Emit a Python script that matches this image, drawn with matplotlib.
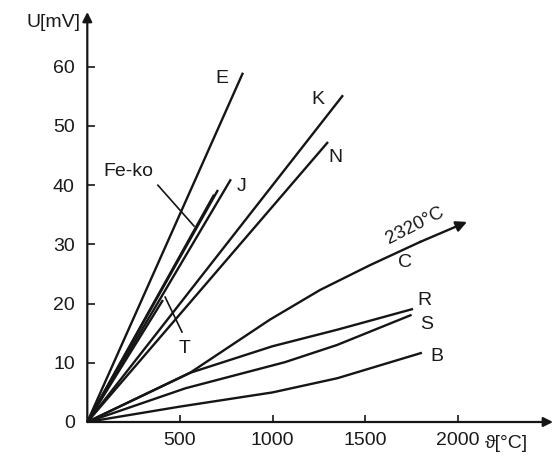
import matplotlib
matplotlib.use("Agg")
import matplotlib.pyplot as plt
import numpy as np

plt.rcParams['font.family'] = ['Liberation Sans', 'DejaVu Sans']

# ---- data (temperature in °C, thermo-voltage in mV) ----
e_t = [0, 840];   e_u = [0, 59.0]
k_t = [0, 1380];  k_u = [0, 55.2]
n_t = [0, 1299];  n_u = [0, 47.3]
j_t = [0, 775];   j_u = [0, 41.0]
feko_t = [0, 705]; feko_u = [0, 39.2]
feko2_t = [0, 684]; feko2_u = [0, 38.4]
t_t = [0, 408];   t_u = [0, 20.6]
c_t = [0, 554, 986, 1256, 1526, 1795, 2049]
c_u = [0, 8.3, 17.3, 22.3, 26.5, 30.4, 33.8]
r_t = [0, 554, 1000, 1350, 1758]
r_u = [0, 8.3, 12.8, 15.6, 19.1]
s_t = [0, 530, 1066, 1347, 1750]
s_u = [0, 5.7, 10.1, 13.0, 18.1]
b_t = [0, 500, 1000, 1350, 1806]
b_u = [0, 2.6, 5.0, 7.4, 11.7]

x_ticks = [500, 1000, 1500, 2000]
y_ticks = [0, 10, 20, 30, 40, 50, 60]

col = '#151515'
lw = 1.7

fig = plt.figure(figsize=(5.56, 4.57), dpi=100)
ax = fig.add_axes([87.3 / 556, (457 - 422) / 457, (553 - 87.3) / 556, (422 - 12) / 457])
xmax = (553 - 87.3) / 0.1853
ymax = (422 - 12) / 5.92
ax.set_xlim(0, xmax)
ax.set_ylim(0, ymax)
for sp in ax.spines.values():
    sp.set_visible(False)

# axes with arrows
ax.annotate('', xy=(xmax, 0), xytext=(0, 0), annotation_clip=False,
            arrowprops=dict(arrowstyle='-|>', lw=1.6, color=col, mutation_scale=14, shrinkA=0, shrinkB=0))
ax.annotate('', xy=(0, ymax), xytext=(0, 0), annotation_clip=False,
            arrowprops=dict(arrowstyle='-|>', lw=1.6, color=col, mutation_scale=14, shrinkA=0, shrinkB=0))

ax.set_xticks(x_ticks)
ax.set_yticks(y_ticks)
ax.tick_params(axis='x', direction='in', length=5, width=1.2, color=col, pad=7, labelsize=14, labelcolor='#1a1a1a')
ax.tick_params(axis='y', direction='in', length=6, width=1.2, color=col, pad=9, labelsize=14, labelcolor='#1a1a1a')

def curve(t, u):
    ax.plot(t, u, color=col, lw=lw, solid_capstyle='butt', solid_joinstyle='round', clip_on=False)

for t, u in [(e_t, e_u), (k_t, k_u), (n_t, n_u), (j_t, j_u), (feko_t, feko_u),
             (feko2_t, feko2_u), (t_t, t_u), (r_t, r_u), (s_t, s_u), (b_t, b_u)]:
    curve(t, u)
ax.plot(c_t[:-1], c_u[:-1], color=col, lw=lw, solid_joinstyle='round')
ax.annotate('', xy=(c_t[-1], c_u[-1]), xytext=(c_t[-2], c_u[-2]),
            arrowprops=dict(arrowstyle='-|>', lw=lw, color=col, mutation_scale=16, shrinkA=0, shrinkB=0))

fs = 14
tc = '#1a1a1a'
ax.text(727, 58.0, 'E', fontsize=fs, ha='center', va='center', color=tc)
ax.text(1244, 54.4, 'K', fontsize=fs, ha='center', va='center', color=tc)
ax.text(1337, 44.6, 'N', fontsize=fs, ha='center', va='center', color=tc)
ax.text(830, 39.7, 'J', fontsize=fs, ha='center', va='center', color=tc)
ax.text(219, 42.3, 'Fe-ko', fontsize=fs, ha='center', va='center', color=tc)
ax.text(526, 12.4, 'T', fontsize=fs, ha='center', va='center', color=tc)
ax.text(1714, 27.0, 'C', fontsize=fs, ha='center', va='center', color=tc)
ax.text(1770, 33.2, '2320°C', fontsize=13.5, ha='center', va='center', rotation=27, color=tc)
ax.text(1822, 20.6, 'R', fontsize=fs, ha='center', va='center', color=tc)
ax.text(1833, 16.4, 'S', fontsize=fs, ha='center', va='center', color=tc)
ax.text(1887, 11.0, 'B', fontsize=fs, ha='center', va='center', color=tc)

# leader lines
ax.plot([381, 576], [40.0, 33.1], color=col, lw=1.2)
ax.plot([420, 511], [21.1, 15.2], color=col, lw=1.2)

# axis labels
ax.text(-35, 67.4, 'U[mV]', fontsize=fs, ha='right', va='center', color=tc)
ax.text(2265, -3.6, 'ϑ[°C]', fontsize=fs, ha='center', va='center', color=tc)

fig.savefig('out.png', dpi=100)
